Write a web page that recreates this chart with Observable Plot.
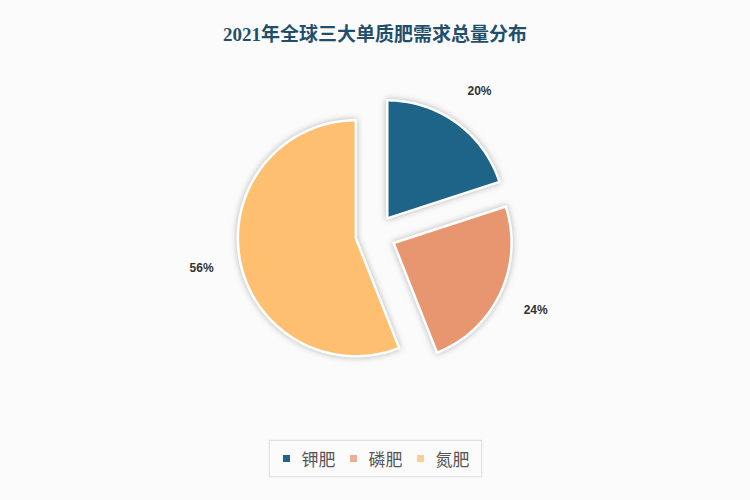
<!DOCTYPE html>
<html>
<head>
<meta charset="utf-8">
<script src="https://cdn.jsdelivr.net/npm/d3@7"></script>
<script src="https://cdn.jsdelivr.net/npm/@observablehq/plot@0.6"></script>
<style>
  html, body { margin: 0; padding: 0; background: #fbfbfb; width: 750px; height: 500px; overflow: hidden; }
  #title { height: 60px; line-height: 70px; text-align: center; font-family: "Liberation Serif", "Noto Sans CJK SC", serif; font-weight: bold; font-size: 19px; color: #1f4f6c; }
  #chart svg { display: block; background: transparent; }
  #chart g[aria-label="line"] { filter: drop-shadow(0 0 3px rgba(0,0,0,0.28)); }
  #legend { display: flex; justify-content: center; margin-top: 5px; }
  #legend .box { display: flex; align-items: center; height: 35px; padding: 0 11px 0 13px; border: 1px solid #e2e2e2; background: #fbfbfb; box-shadow: 0 0 2px rgba(0,0,0,0.08); }
  #legend .item { display: flex; align-items: center; margin-right: 14px; font-family: "Noto Sans CJK SC", sans-serif; font-size: 17px; color: #555; }
  #legend .item:last-child { margin-right: 0; }
  #legend .sw { width: 7px; height: 7px; margin-right: 12px; }
</style>
</head>
<body>
<div id="title">2021年全球三大单质肥需求总量分布</div>
<div id="chart"></div>
<div id="legend"><div class="box"></div></div>
<script>
const categories = ["钾肥", "磷肥", "氮肥"];
const values = [20, 24, 56];
const colors = ["#1d6488", "#e8966f", "#fec070"];

const W = 750, H = 375;
const cx = 0, cy = 0;          // pie centre in chart units
const R = 118;                 // radius
const explode = 20;            // slice offset
const labelR = R * 1.5;

const total = d3.sum(values);
const pts = [];
const labels = [];
let acc = 0;
categories.forEach((name, i) => {
  const a0 = acc / total * 2 * Math.PI;
  acc += values[i];
  const a1 = acc / total * 2 * Math.PI;
  const mid = (a0 + a1) / 2;
  const ox = cx + explode * Math.sin(mid);
  const oy = cy - explode * Math.cos(mid);
  pts.push({name, color: colors[i], x: ox, y: oy});
  const n = Math.max(2, Math.ceil((a1 - a0) / (Math.PI / 180)));
  for (let k = 0; k <= n; k++) {
    const a = a0 + (a1 - a0) * k / n;
    pts.push({name, color: colors[i], x: ox + R * Math.sin(a), y: oy - R * Math.cos(a)});
  }
  pts.push({name, color: colors[i], x: ox, y: oy});
  labels.push({text: values[i] + "%", x: cx + labelR * Math.sin(mid), y: cy - labelR * Math.cos(mid)});
});

const plot = Plot.plot({
  width: W,
  height: H,
  margin: 0,
  x: {domain: [-375, 375], range: [0, W], axis: null},
  y: {domain: [-174, H - 174], range: [0, H], axis: null},
  marks: [
    Plot.line(pts, {x: "x", y: "y", z: "name", fill: "color", stroke: "#ffffff", strokeWidth: 2.5, curve: "linear", strokeLinejoin: "round"}),
    Plot.text(labels, {x: "x", y: "y", text: "text", fontSize: 12, fontWeight: "bold", fill: "#333", fontFamily: "Liberation Sans, Arial, sans-serif"})
  ]
});
document.getElementById("chart").appendChild(plot);

const box = document.querySelector("#legend .box");
categories.forEach((name, i) => {
  const item = document.createElement("div");
  item.className = "item";
  const sw = document.createElement("span");
  sw.className = "sw";
  sw.style.background = colors[i];
  sw.style.opacity = i === 0 ? 1 : 0.75;
  const t = document.createElement("span");
  t.textContent = name;
  item.appendChild(sw);
  item.appendChild(t);
  box.appendChild(item);
});
</script>
</body>
</html>
